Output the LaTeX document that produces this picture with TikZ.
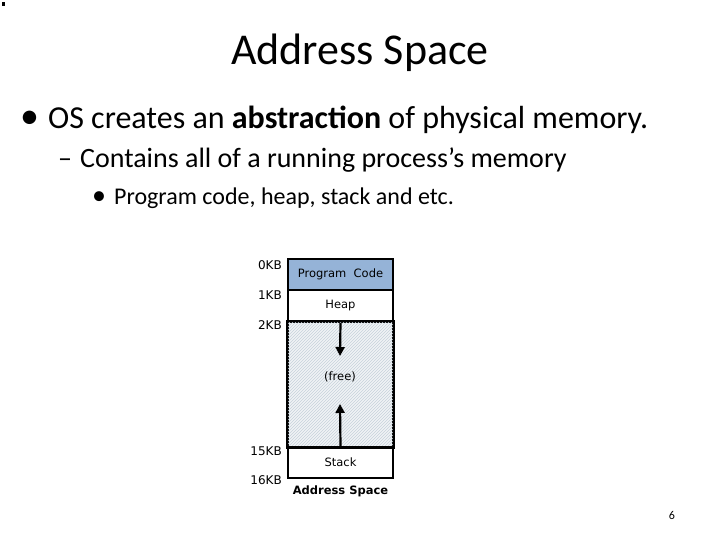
\documentclass[tikz,border=0pt]{standalone}
\usepackage{fontspec}
\setmainfont{Carlito}
\newfontfamily\boxfont{DejaVu Sans}
\usepackage{tikz}
\usetikzlibrary{arrows.meta,positioning,patterns}
\definecolor{codeblue}{HTML}{95B3D7}
\definecolor{freebg}{HTML}{F0F3F6}
\definecolor{freeline}{HTML}{C6D2DB}

\begin{document}
\begin{tikzpicture}[x=1pt,y=-1pt,
  seg/.style={draw,line width=1.6pt,minimum width=105pt,inner sep=0pt,font=\boxfont\fontsize{11.5}{14}\selectfont},
  kb/.style={anchor=east,inner sep=0pt,font=\boxfont\fontsize{12}{14}\selectfont},
  growarrow/.style={line width=2.2pt,-{Triangle[length=9pt,width=9pt]}},
  txt/.style={anchor=west,inner sep=0pt}]
  \useasboundingbox (0,0) rectangle (720,540);
  \fill (2,2) rectangle (5,6);
  % slide text
  \node[inner sep=0pt,font=\fontsize{44}{50}\selectfont] (title) at (360,53) {Address Space};
  \node[txt,font=\fontsize{32}{36}\selectfont] (b1) at (20,120) {{\fontsize{38}{36}\selectfont\textbullet}\hspace{9pt}OS creates an \textbf{abstraction} of physical memory.};
  \node[txt,font=\fontsize{28}{32}\selectfont] (b2) at (58,160) {–\hspace{8pt}Contains all of a running process’s memory};
  \node[txt,font=\fontsize{24}{28}\selectfont] (b3) at (92,198) {{\fontsize{28}{28}\selectfont\textbullet}\hspace{8pt}Program code, heap, stack and etc.};
  % address space
  \node[seg,fill=codeblue,minimum height=31pt] (code) at (340.5,274.5) {Program\ \ Code};
  \node[seg,minimum height=32pt] (heap) at (340.5,306) {Heap};
  \node[seg,fill=freebg,minimum height=125pt] (free) at (340.5,384.5) {};
  \fill[pattern=north east lines,pattern color=freeline] (free.north west) rectangle (free.south east);
  \draw[line width=1.6pt] (free.north west) rectangle (free.south east);
  \node[seg,minimum height=31pt] (stack) at (340.5,462.5) {Stack};
  \node[inner sep=0pt,font=\boxfont\fontsize{11.5}{14}\selectfont] (freetxt) at (340,377) {(free)};
  \coordinate (heapend) at (340,356);
  \coordinate (stackend) at (340,404);
  \draw[growarrow] (heap.south) -- (heapend);
  \draw[growarrow] (stack.north) -- (stackend);
  \node[kb] (k0) at (282,265) {0KB};
  \node[kb] (k1) at (282,295) {1KB};
  \node[kb] (k2) at (282,325) {2KB};
  \node[kb] (k15) at (282,451) {15KB};
  \node[kb] (k16) at (282,480) {16KB};
  \node[inner sep=0pt,font=\boxfont\bfseries\fontsize{11.5}{14}\selectfont] (cap) at (340.5,491) {Address\ Space};
  \node[inner sep=0pt,font=\fontsize{12}{14}\selectfont] (page) at (672,515) {6};
\end{tikzpicture}
\end{document}
